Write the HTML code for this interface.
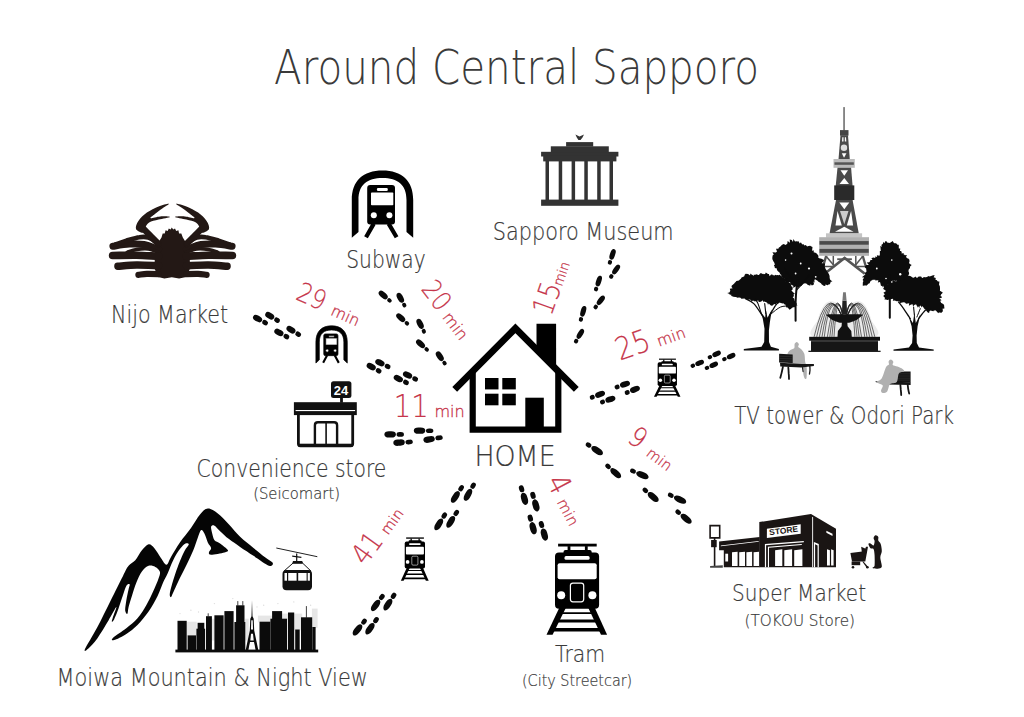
<!DOCTYPE html>
<html><head><meta charset="utf-8"><title>Around Central Sapporo</title>
<style>html,body{margin:0;padding:0;background:#fff}svg{display:block}text{font-family:"DejaVu Sans Light","DejaVu Sans ExtraLight","Liberation Sans",sans-serif;font-weight:200}text.b{font-family:"Liberation Sans",sans-serif;font-weight:bold}text.n{font-family:"Liberation Sans",sans-serif;font-weight:normal}</style></head>
<body>
<svg width="1024" height="717" viewBox="0 0 1024 717">
<rect width="1024" height="717" fill="#fff"/>
<text x="274" y="84" font-size="48" textLength="485" lengthAdjust="spacingAndGlyphs" fill="#3a3a3a" stroke="#3a3a3a" stroke-width="0">Around Central Sapporo</text>
<text x="111" y="323.3" font-size="24" textLength="117" lengthAdjust="spacingAndGlyphs" fill="#3a3a3a" stroke="#3a3a3a" stroke-width="0.2">Nijo Market</text>
<text x="346.2" y="268" font-size="24" textLength="79.6" lengthAdjust="spacingAndGlyphs" fill="#3a3a3a" stroke="#3a3a3a" stroke-width="0.2">Subway</text>
<text x="492.8" y="239.6" font-size="24" textLength="180.8" lengthAdjust="spacingAndGlyphs" fill="#3a3a3a" stroke="#3a3a3a" stroke-width="0.2">Sapporo Museum</text>
<text x="734.2" y="424.2" font-size="24" textLength="219.8" lengthAdjust="spacingAndGlyphs" fill="#3a3a3a" stroke="#3a3a3a" stroke-width="0.2">TV tower &amp; Odori Park</text>
<text x="196.6" y="477" font-size="24.2" textLength="189.8" lengthAdjust="spacingAndGlyphs" fill="#3a3a3a" stroke="#3a3a3a" stroke-width="0.2">Convenience store</text>
<text x="253.2" y="498.9" font-size="15.6" textLength="86.8" lengthAdjust="spacingAndGlyphs" fill="#3a3a3a" stroke="#3a3a3a" stroke-width="0.2">(Seicomart)</text>
<text x="474.4" y="466.4" font-size="28.3" textLength="81.2" lengthAdjust="spacingAndGlyphs" fill="#3a3a3a" stroke="#3a3a3a" stroke-width="0.2">HOME</text>
<text x="56.6" y="685.9" font-size="24.6" textLength="311.2" lengthAdjust="spacingAndGlyphs" fill="#3a3a3a" stroke="#3a3a3a" stroke-width="0.2">Moiwa Mountain &amp; Night View</text>
<text x="555" y="662.3" font-size="23.6" textLength="50.2" lengthAdjust="spacingAndGlyphs" fill="#3a3a3a" stroke="#3a3a3a" stroke-width="0.2">Tram</text>
<text x="522" y="685.7" font-size="16" textLength="110.2" lengthAdjust="spacingAndGlyphs" fill="#3a3a3a" stroke="#3a3a3a" stroke-width="0.2">(City Streetcar)</text>
<text x="732" y="600.5" font-size="23.2" textLength="134" lengthAdjust="spacingAndGlyphs" fill="#3a3a3a" stroke="#3a3a3a" stroke-width="0.2">Super Market</text>
<text x="744.6" y="625.5" font-size="16.2" textLength="110.4" lengthAdjust="spacingAndGlyphs" fill="#3a3a3a" stroke="#3a3a3a" stroke-width="0.2">(TOKOU Store)</text>
<g transform="translate(296.2 299.5) rotate(24)" fill="#c6364b" stroke="#c6364b"><text transform="scale(0.87 1)" x="-2.3" y="0" font-size="26.7" stroke-width="0.15">29</text><text x="36.8" y="0" font-size="15.5" textLength="29.5" lengthAdjust="spacingAndGlyphs" stroke-width="0.3">min</text></g>
<g transform="translate(421.4 290.6) rotate(52.5)" fill="#c6364b" stroke="#c6364b"><text transform="scale(0.87 1)" x="-2.3" y="0" font-size="27" stroke-width="0.15">20</text><text x="33.5" y="0" font-size="16" textLength="30.5" lengthAdjust="spacingAndGlyphs" stroke-width="0.3">min</text></g>
<g transform="translate(552 314.3) rotate(-70.5)" fill="#c6364b" stroke="#c6364b"><text transform="scale(0.87 1)" x="-3.4" y="0" font-size="29.5" stroke-width="0.15">15</text><text x="29" y="0" font-size="13.5" textLength="24.6" lengthAdjust="spacingAndGlyphs" stroke-width="0.3">min</text></g>
<g transform="translate(621.7 360) rotate(-19.5)" fill="#c6364b" stroke="#c6364b"><text transform="scale(0.87 1)" x="-2.3" y="0" font-size="31.3" stroke-width="0.15">25</text><text x="39.7" y="0" font-size="15.4" textLength="29.3" lengthAdjust="spacingAndGlyphs" stroke-width="0.3">min</text></g>
<g transform="translate(396.7 417.1) rotate(0)" fill="#c6364b" stroke="#c6364b"><text transform="scale(0.87 1)" x="-3.4" y="0" font-size="31.6" stroke-width="0.15">11</text><text x="37.7" y="0" font-size="15.9" textLength="30.3" lengthAdjust="spacingAndGlyphs" stroke-width="0.3">min</text></g>
<g transform="translate(627.7 441.7) rotate(37)" fill="#c6364b" stroke="#c6364b"><text transform="scale(0.87 1)" x="-2.3" y="0" font-size="28" stroke-width="0.15">9</text><text x="22" y="0" font-size="14.5" textLength="27.7" lengthAdjust="spacingAndGlyphs" stroke-width="0.3">min</text></g>
<g transform="translate(546.4 482.9) rotate(62)" fill="#c6364b" stroke="#c6364b"><text transform="scale(0.87 1)" x="-1.7" y="0" font-size="30.9" stroke-width="0.15">4</text><text x="21.5" y="0" font-size="15" textLength="28.6" lengthAdjust="spacingAndGlyphs" stroke-width="0.3">min</text></g>
<g transform="translate(366.4 565.4) rotate(-54)" fill="#c6364b" stroke="#c6364b"><text transform="scale(0.87 1)" x="-1.7" y="0" font-size="28.8" stroke-width="0.15">41</text><text x="36.6" y="0" font-size="14.6" textLength="27.9" lengthAdjust="spacingAndGlyphs" stroke-width="0.3">min</text></g>
<path d="M454.7 389.4 L515.4 328.3 L576.3 389.4" fill="none" stroke="#000" stroke-width="6.8" stroke-linejoin="miter"/><path d="M536.5 323.7 L556.1 323.7 L556.1 366.9 L536.5 347.9Z" fill="#000"/><path d="M472.7 371.2 V429.6 H558.3 V371.2" fill="none" stroke="#000" stroke-width="6.2"/><rect x="485" y="378" width="13.5" height="11.4" fill="#000"/><rect x="502.3" y="378" width="13.5" height="11.4" fill="#000"/><rect x="485" y="393.7" width="13.5" height="11.6" fill="#000"/><rect x="502.3" y="393.7" width="13.5" height="11.6" fill="#000"/><rect x="525.3" y="397.7" width="18.5" height="29.6" fill="#000"/>
<defs><g id="subway"><path d="M-0 67.4 V29.5 C-0 10.1 11.3 -0 30.7 -0 C50 -0 61.4 10.1 61.4 29.5 V67.4 L54.7 61.6 V29.5 C54.7 14.3 45.8 7.6 30.7 7.6 C15.5 7.6 6.7 14.3 6.7 29.5 V61.6 Z" fill="#000"/><rect x="15.4" y="14.7" width="27.8" height="39.3" rx="3" fill="#000"/><rect x="19.2" y="22.2" width="22.3" height="12.6" rx="0.8" fill="#fff"/><rect x="25.1" y="17.7" width="10.9" height="2.8" rx="1.2" fill="#fff"/><circle cx="22" cy="44.8" r="3" fill="#fff"/><circle cx="37.6" cy="44.8" r="3" fill="#fff"/><path d="M22 53.2 L14.2 66.9 M36.8 53.2 L44.8 66.9" stroke="#000" stroke-width="4.2" fill="none"/></g><g id="tram"><rect x="11.2" y="0" width="38.6" height="2.8" rx="0" fill="#000"/><rect x="20.7" y="2.4" width="2.8" height="5.7" rx="0" fill="#000"/><rect x="38" y="2.4" width="2.8" height="5.7" rx="0" fill="#000"/><rect x="16.6" y="6.2" width="28.2" height="5" rx="2" fill="#000"/><rect x="8.1" y="8.8" width="44.1" height="56.2" rx="4" fill="#000"/><rect x="17.6" y="12.4" width="25.1" height="3.6" rx="1.5" fill="#fff"/><rect x="10.7" y="19.5" width="39.1" height="16.1" rx="2" fill="#fff"/><rect x="23.5" y="39.4" width="13.3" height="18.7" rx="2.5" fill="#000" stroke="#fff" stroke-width="1.2"/><circle cx="14.3" cy="51.5" r="4" fill="#fff"/><circle cx="45.5" cy="51.5" r="4" fill="#fff"/><path d="M12.4 64 L19 64 L5.7 91.1 L-0.4 91.1Z" fill="#000"/><path d="M41.3 64 L47.9 64 L60.2 91.1 L54.1 91.1Z" fill="#000"/><path d="M15.2 68.5 L45.1 68.5 L45.8 70.4 L14.5 70.4Z" fill="#000"/><path d="M11.4 75.9 L48.9 75.9 L50 78.7 L10.2 78.7Z" fill="#000"/><path d="M7.1 84.2 L53.1 84.2 L54.5 87.7 L5.7 87.7Z" fill="#000"/></g></defs>
<use href="#subway" transform="translate(351.8 170.4)"/>
<use href="#subway" transform="translate(315.9 325.8) scale(0.511 0.553)" stroke="#000" stroke-width="1.3"/>
<use href="#tram" transform="translate(546.9 543.7)"/>
<use href="#tram" transform="translate(654.1 358.6) scale(0.438 0.42)"/>
<use href="#tram" transform="translate(401 537.4) scale(0.46 0.477)"/>
<g fill="#333"><rect x="541.1" y="199.6" width="77.3" height="6.2"/><rect x="541.1" y="151.8" width="77.3" height="4.7"/><rect x="543.2" y="155.9" width="73.2" height="5.5"/><rect x="550.8" y="146.3" width="58" height="6.2"/><rect x="566.1" y="142.1" width="27.1" height="4.5"/><rect x="545.5" y="161" width="3.5" height="39"/><rect x="558.7" y="161" width="3.5" height="39"/><rect x="571.6" y="161" width="3.5" height="39"/><rect x="584.3" y="161" width="3.5" height="39"/><rect x="597.2" y="161" width="3.5" height="39"/><rect x="609.5" y="161" width="3.5" height="39"/><path d="M575.4 134.4 L579.5 136.4 L584 134.4 L582.5 137.4 L580.5 140.1 L578.4 140.1 L576.8 137.4Z"/></g>
<rect x="331" y="381.2" width="20.4" height="16.8" rx="2.5" fill="#111"/><rect x="340.1" y="397.5" width="2.8" height="5.2" rx="0" fill="#111"/><rect x="293.9" y="402.2" width="62.9" height="12.9" rx="0" fill="#111"/><rect x="295.6" y="410" width="59.5" height="1.1" rx="0" fill="#fff"/><path d="M298.4 414 V443.8 Q298.4 445.8 300.4 445.8 H350.7 Q352.7 445.8 352.7 443.8 V414" fill="none" stroke="#111" stroke-width="2.8"/><rect x="298.4" y="443.7" width="54.4" height="3.2" rx="0" fill="#111"/><path d="M314.9 445.2 V425.2 Q314.9 422.2 317.9 422.2 H334.1 Q337.1 422.2 337.1 425.2 V445.2" fill="none" stroke="#111" stroke-width="2.4"/><path d="M326.1 422.2 V445.2" stroke="#111" stroke-width="1.6"/><text x="341.1" y="395.4" font-size="13" class="b" fill="#fff" text-anchor="middle">24</text>
<path d="M171.8 227.5 L173.2 229.4 L175 228.4 L176.2 230.9 L178.4 230.2 L179.1 233.4 L181.3 233.4 L182.8 237.5 L186.4 243.3 L189.6 253.6 L190.1 268.2 L186.4 277 L179.1 278.5 L171.8 277.3 L164.4 278.5 L157.9 277 L154.5 268.2 L154.9 253.6 L157.9 243.3 L161.5 237.5 L162.7 233.4 L164.7 233.4 L165.6 230.2 L167.7 230.9 L168.8 228.4 L170.6 229.4Z" fill="#231815"/><path d="M158.6 249.5 C156.1 248.7 148.8 245.4 143.9 244.5 C139.1 243.6 134.5 243.8 129.3 244.1 C124.1 244.4 115.6 245.9 112.9 246.3" fill="none" stroke="#231815" stroke-width="7.0" stroke-linecap="round" stroke-linejoin="round"/><path d="M158.6 252.1 C156.9 251.6 152 249.3 148.3 248.9 C144.7 248.5 140.2 248.9 136.6 249.5 C133.1 250.1 128.7 251.9 127.1 252.4" fill="none" stroke="#231815" stroke-width="3.6" stroke-linecap="round" stroke-linejoin="round"/><path d="M158.6 256.2 C154.9 256.1 144.3 255.5 136.6 255.3 C129 255.2 116.6 255.5 112.6 255.5" fill="none" stroke="#231815" stroke-width="7.6" stroke-linecap="round" stroke-linejoin="round"/><path d="M158.6 265.7 C154.9 265.6 143.4 264.9 136.6 265 C129.8 265.1 121 266.1 117.9 266.3" fill="none" stroke="#231815" stroke-width="7.4" stroke-linecap="round" stroke-linejoin="round"/><path d="M158.6 274.1 C156.6 274 150.2 273.7 146.9 273.8 C143.5 273.9 139.8 274.7 138.4 274.8" fill="none" stroke="#231815" stroke-width="6.2" stroke-linecap="round" stroke-linejoin="round"/><path d="M158.6 244.1 C157 242.5 151.9 237.4 149.1 234.5 C146.3 231.7 143 228.2 141.7 226.9" fill="none" stroke="#231815" stroke-width="6.4" stroke-linecap="round" stroke-linejoin="round"/><path d="M158.6 243.3 C156.9 242.4 151.5 238.5 148.3 237.5 C145.2 236.5 143.2 236.6 139.5 237.2 C135.9 237.7 130.4 239.5 126.4 240.7 C122.3 241.9 117.2 243.9 115.4 244.5" fill="none" stroke="#231815" stroke-width="4.6" stroke-linecap="round" stroke-linejoin="round"/><path d="M136 229 C135.3 227 136.6 223.8 138.4 221.1 C140.2 218.3 143.5 215 146.9 212.6 C150.2 210.1 154.9 207.9 158.6 206.4 C162.3 205 168.5 203.4 169.1 203.8 C169.7 204.1 164.6 206.8 162.3 208.5 C159.9 210.2 156.9 212.4 154.9 214 C153 215.7 149.7 217.8 150.5 218.1 C151.4 218.5 156.8 216.6 160.1 216.4 C163.3 216.2 170.3 216.4 170 217 C169.8 217.5 162.1 218.7 158.6 219.6 C155.1 220.5 151.3 221.1 149.1 222.5 C146.8 223.9 146.2 226.2 145.1 228 C144.1 229.7 144.3 232.6 142.8 232.8 C141.3 233 136.8 230.9 136 229Z" fill="#231815"/><path d="M186.4 249.5 C188.9 248.7 196.2 245.4 201.1 244.5 C206 243.6 210.5 243.8 215.7 244.1 C220.9 244.4 229.4 245.9 232.1 246.3" fill="none" stroke="#231815" stroke-width="7.0" stroke-linecap="round" stroke-linejoin="round"/><path d="M186.4 252.1 C188.1 251.6 193 249.3 196.7 248.9 C200.3 248.5 204.9 248.9 208.4 249.5 C211.9 250.1 216.3 251.9 217.9 252.4" fill="none" stroke="#231815" stroke-width="3.6" stroke-linecap="round" stroke-linejoin="round"/><path d="M186.4 256.2 C190.1 256.1 200.7 255.5 208.4 255.3 C216.1 255.2 228.4 255.5 232.4 255.5" fill="none" stroke="#231815" stroke-width="7.6" stroke-linecap="round" stroke-linejoin="round"/><path d="M186.4 265.7 C190.1 265.6 201.6 264.9 208.4 265 C215.2 265.1 224 266.1 227.1 266.3" fill="none" stroke="#231815" stroke-width="7.4" stroke-linecap="round" stroke-linejoin="round"/><path d="M186.4 274.1 C188.4 274 194.8 273.7 198.1 273.8 C201.5 273.9 205.2 274.7 206.6 274.8" fill="none" stroke="#231815" stroke-width="6.2" stroke-linecap="round" stroke-linejoin="round"/><path d="M186.4 244.1 C188 242.5 193.1 237.4 195.9 234.5 C198.8 231.7 202 228.2 203.3 226.9" fill="none" stroke="#231815" stroke-width="6.4" stroke-linecap="round" stroke-linejoin="round"/><path d="M186.4 243.3 C188.1 242.4 193.5 238.5 196.7 237.5 C199.8 236.5 201.8 236.6 205.5 237.2 C209.1 237.7 214.6 239.5 218.6 240.7 C222.7 241.9 227.8 243.9 229.6 244.5" fill="none" stroke="#231815" stroke-width="4.6" stroke-linecap="round" stroke-linejoin="round"/><path d="M209 229 C209.7 227 208.4 223.8 206.6 221.1 C204.8 218.3 201.5 215 198.1 212.6 C194.8 210.1 190.1 207.9 186.4 206.4 C182.7 205 176.5 203.4 175.9 203.8 C175.3 204.1 180.4 206.8 182.8 208.5 C185.1 210.2 188.1 212.4 190.1 214 C192 215.7 195.3 217.8 194.5 218.1 C193.6 218.5 188.2 216.6 185 216.4 C181.7 216.2 174.8 216.4 175 217 C175.2 217.5 182.9 218.7 186.4 219.6 C189.9 220.5 193.7 221.1 195.9 222.5 C198.2 223.9 198.8 226.2 199.9 228 C200.9 229.7 200.7 232.6 202.2 232.8 C203.8 233 208.2 230.9 209 229Z" fill="#231815"/>
<path d="M85 649.1 C86.5 645.5 93 635.3 97.3 627.2 C101.6 619.1 106.4 609 110.7 600.4 C115 591.9 120 581.6 123 575.9 C126 570.1 126.5 568.4 128.6 565.8 C130.6 563.2 133 562.9 135.3 560.3 C137.5 557.7 139.7 552.9 141.9 550.2 C144.2 547.5 146.6 544.6 148.6 544.2 C150.7 543.8 152.2 545.7 154.2 548 C156.3 550.3 158.9 555.2 160.9 558 C163 560.8 164.8 564.9 166.5 564.7 C168.2 564.5 168.7 560.6 171 556.9 C173.2 553.2 176.5 547.2 179.9 542.4 C183.2 537.6 187.7 532.5 191 527.9 C194.4 523.2 197.2 517.7 200 514.5 C202.8 511.3 204.8 508.7 207.8 508.5 C210.8 508.3 214.3 510.7 217.8 513.4 C221.4 516.1 225.3 520.6 229 524.5 C232.7 528.5 236.1 532.9 240.1 536.8 C244.2 540.7 249.4 544.6 253.5 548 C257.6 551.3 261.5 554.5 264.7 556.9 C267.9 559.3 271.4 561 272.5 562.5 C273.6 564 272.3 565.5 271.4 565.8 C270.5 566.2 269.9 566.4 266.9 564.7 C263.9 563 258 558.8 253.5 555.8 C249.1 552.8 244.2 549.7 240.1 546.9 C236.1 544.1 232.3 541.7 229 539.1 C225.6 536.5 222.5 533.5 220.1 531.2 C217.6 529 216 526.4 214.5 525.7 C213 524.9 211.5 525.5 211.1 526.8 C210.8 528.1 211.7 531.2 212.2 533.5 C212.8 535.7 213.2 538.5 214.5 540.2 C215.8 541.8 217.8 541.8 220.1 543.5 C222.3 545.2 227.1 548.7 227.9 550.2 C228.6 551.7 227.3 551.7 224.5 552.4 C221.7 553.2 213.7 554.7 211.1 554.7 C208.5 554.7 208.9 553.6 208.9 552.4 C208.9 551.3 211.3 549.7 211.1 548 C210.9 546.3 208.9 544.8 207.8 542.4 C206.7 540 205.6 535.5 204.4 533.5 C203.3 531.4 202.2 529.4 201.1 530.1 C200 530.9 199 534.6 197.7 537.9 C196.4 541.3 195.1 545.7 193.3 550.2 C191.4 554.7 188.8 560.1 186.6 564.7 C184.4 569.4 182.1 573.5 179.9 578.1 C177.7 582.8 174.7 589.5 173.2 592.6 C171.7 595.8 171.5 596.9 171 597.1 C170.4 597.3 169.5 596.5 169.8 593.7 C170.2 590.9 171.9 584.8 173.2 580.3 C174.5 575.9 175.8 571.8 177.7 566.9 C179.5 562.1 182.5 555 184.4 551.3 C186.2 547.6 188.6 545.9 188.8 544.6 C189 543.3 187 542.8 185.5 543.5 C184 544.3 181.9 546.3 179.9 549.1 C177.8 551.9 175.2 556.2 173.2 560.3 C171.1 564.3 169.3 569.9 167.6 573.6 C165.9 577.4 164.8 578.9 163.1 582.6 C161.5 586.3 160 591.1 157.6 596 C155.2 600.8 152 606.7 148.6 611.6 C145.3 616.4 141.2 621.3 137.5 625 C133.8 628.7 130.2 631.4 126.3 633.9 C122.4 636.4 116.3 639.5 114.1 640.1 C111.8 640.8 110.9 639.9 112.9 637.9 C115 635.9 122.2 631.6 126.3 628.3 C130.4 625 134.1 622.2 137.5 618.3 C140.8 614.4 143.8 609.4 146.4 604.9 C149 600.4 151.1 596 153.1 591.5 C155.2 587 157.6 581.5 158.7 578.1 C159.8 574.8 160.4 573.3 159.8 571.4 C159.2 569.6 157.2 567.9 155.3 566.9 C153.5 566 150.9 565.1 148.6 565.8 C146.4 566.6 144 568.6 141.9 571.4 C139.9 574.2 138 578.5 136.4 582.6 C134.7 586.7 133.2 591.9 131.9 596 C130.6 600.1 129.3 604.1 128.6 607.1 C127.8 610.1 128 613.3 127.4 613.8 C126.9 614.4 125.4 612.7 125.2 610.5 C125 608.2 125.8 604 126.3 600.4 C126.9 596.9 128 591.9 128.6 589.3 C129.1 586.6 130 584.9 129.7 584.4 C129.3 583.8 127.6 583.6 126.3 585.9 C125 588.2 123.4 593.9 121.9 598.2 C120.4 602.5 118.7 608 117.4 611.6 C116.1 615.1 115 617.7 114.1 619.4 C113.1 621.1 112 622 111.8 621.6 C111.6 621.3 112.2 619.6 112.9 617.2 C113.7 614.7 117 606.6 116.3 607.1 C115.5 607.7 111.6 615.3 108.5 620.5 C105.3 625.7 100.7 633.7 97.3 638.4 C94 643 90.4 646.6 88.4 648.4 C86.3 650.2 83.6 652.6 85 649.1Z" fill="#050505"/>
<rect x="186.7" y="621.7" width="10" height="14.6" fill="#e6e6e6"/><rect x="211.8" y="618.7" width="3" height="21.8" fill="#e6e6e6"/><rect x="245" y="618.7" width="3.7" height="21.8" fill="#e6e6e6"/><rect x="257.9" y="615.6" width="14.6" height="6.7" fill="#e6e6e6"/><rect x="293.5" y="613.6" width="8.7" height="16.7" fill="#e6e6e6"/><rect x="311.9" y="608.6" width="5.7" height="19.2" fill="#e6e6e6"/><rect x="282.1" y="613.6" width="6.4" height="5.9" fill="#e6e6e6"/><circle cx="180" cy="613.6" r="0.7" fill="#ddd"/><circle cx="190.9" cy="610.3" r="0.7" fill="#ddd"/><circle cx="198.5" cy="612" r="0.7" fill="#ddd"/><circle cx="214.4" cy="603.6" r="0.7" fill="#ddd"/><circle cx="232.8" cy="598.6" r="0.7" fill="#ddd"/><circle cx="263.7" cy="605.3" r="0.7" fill="#ddd"/><circle cx="277.9" cy="603.6" r="0.7" fill="#ddd"/><circle cx="293.8" cy="601.9" r="0.7" fill="#ddd"/><circle cx="310.6" cy="605.3" r="0.7" fill="#ddd"/><circle cx="257" cy="606.9" r="0.7" fill="#ddd"/><g fill="#0b0b0b"><rect x="177.5" y="620.8" width="9.2" height="30"/><rect x="187.6" y="635.4" width="8.4" height="15.4"/><rect x="196.4" y="628.7" width="8.7" height="22.1"/><rect x="197.6" y="622.8" width="6.7" height="27.9"/><rect x="206" y="616.2" width="5.9" height="34.6"/><rect x="214.4" y="615.3" width="9.2" height="35.5"/><rect x="224.4" y="611.1" width="9.2" height="39.7"/><rect x="236.1" y="605.3" width="8.4" height="45.5"/><rect x="234.4" y="622" width="10.9" height="28.8"/><rect x="259.5" y="621.7" width="10.9" height="29.1"/><rect x="272.1" y="611.1" width="10" height="39.7"/><rect x="270.4" y="618.7" width="16.7" height="32.1"/><rect x="288" y="612.5" width="6.2" height="38.3"/><rect x="295.2" y="629.5" width="4.5" height="21.3"/><rect x="301" y="617.3" width="11.2" height="33.5"/><rect x="312.3" y="627" width="3.3" height="23.8"/><path d="M237.8 601.1 V605.6" stroke="#111" stroke-width="0.8"/><path d="M242.8 601.1 V605.6" stroke="#111" stroke-width="0.8"/><path d="M306.4 606.1 V617.8" stroke="#111" stroke-width="0.8"/><path d="M208.2 613.3 V616.5" stroke="#111" stroke-width="0.8"/><rect x="175.4" y="649.6" width="142.8" height="2.8"/><path d="M252 600.3 L252.5 616.2 L253.7 618.7 L254.2 630.4 L258.4 650.5 L255.7 650.5 L254 642.1 L250 642.1 L248.3 650.5 L245.6 650.5 L249.8 630.4 L250.3 618.7 L251.5 616.2Z"/><path d="M251 633.7 L253 633.7 L253.7 640.4 L250.3 640.4Z" fill="#fff"/><path d="M251.3 620.3 L252.7 620.3 L253 629.5 L251 629.5Z" fill="#fff"/><path d="M250 644.1 L254 644.1 L254.7 648.8 L249.3 648.8Z" fill="#fff"/></g>
<path d="M276.3 548 L317.3 556.7" stroke="#222" stroke-width="1"/><path d="M292.2 555.4 L301.4 556.7 L301.4 558.1 L292.2 556.7Z" fill="#111"/><path d="M296.7 553.4 L296.7 562.6" fill="none" stroke="#111" stroke-width="1.2"/><path d="M293 560.9 L302.2 560.9 L303.1 563.4 L292.2 563.4Z" fill="#111"/><path d="M293 563.1 L284.1 571 L310.9 571 L302.6 563.1Z" fill="none" stroke="#111" stroke-width="1"/><rect x="282.5" y="570.1" width="29.5" height="20.1" rx="4" fill="#111"/><rect x="284.5" y="573" width="2.5" height="7.7" fill="#fff"/><rect x="288.2" y="573" width="8.4" height="7.7" fill="#fff"/><rect x="298.2" y="573" width="8.4" height="7.7" fill="#fff"/><rect x="307.7" y="573" width="2.2" height="7.7" fill="#fff"/>
<rect x="843.3" y="107.1" width="1.5" height="23.6" fill="#666"/><rect x="840" y="130.1" width="8.5" height="5.5" fill="#444"/><path d="M840.5 135.2 L848 135.2 L849.8 159.3 L838.5 159.3Z" fill="#4a4a4a"/><circle cx="844" cy="147.7" r="3.2" fill="#ddd"/><path d="M842.3 137.2 L843.5 137.2 L843.5 141.4 L842 141.4Z" fill="#fff"/><path d="M844.8 137.2 L846 137.2 L846.3 141.4 L844.8 141.4Z" fill="#fff"/><path d="M841.8 153.2 L846.5 153.2 L844 157.8Z" fill="#fff"/><rect x="833.5" y="159" width="21.3" height="8.8" fill="#bbb"/><rect x="834.5" y="162.3" width="19.3" height="2.5" fill="#555"/><path d="M837.5 167.8 L851.1 167.8 L852.6 185.9 L835.7 185.9Z" fill="#4a4a4a"/><path d="M840.5 170.3 L848 170.3 L844.3 175.8Z" fill="#fff"/><path d="M839.5 184.1 L844.3 177.9 L849 184.1Z" fill="#fff"/><rect x="834.2" y="185.4" width="20.1" height="14.6" fill="#2a2a2a"/><path d="M836 199.9 L852.6 199.9 L858.8 233.6 L829.5 233.6Z" fill="#4a4a4a"/><path d="M839.3 202.5 L849.3 202.5 L844.3 209.2Z" fill="#fff"/><path d="M840 211 L848.5 211 L844.3 224.3Z" fill="#ccc"/><path d="M837.5 211 L841.8 225.6 L835.5 225.6Z" fill="#fff"/><path d="M851.1 211 L846.8 225.6 L853.1 225.6Z" fill="#fff"/><path d="M835 231.8 L844.3 226.8 L853.6 231.8Z" fill="#fff"/><path d="M824 274.3 L844.6 258 L864.8 273.8" fill="none" stroke="#555" stroke-width="2.6"/><path d="M826.3 255.5 L822.6 268" fill="none" stroke="#555" stroke-width="2.4"/><path d="M862.6 255.5 L866.3 268" fill="none" stroke="#555" stroke-width="2.4"/><path d="M833.3 255.8 L833.3 265.5" fill="none" stroke="#555" stroke-width="1.5"/><path d="M855.8 255.8 L855.8 265.5" fill="none" stroke="#555" stroke-width="1.5"/><path d="M826.3 256.4 L833.3 264.8" fill="none" stroke="#555" stroke-width="1.5"/><path d="M862.6 256.4 L855.8 264.8" fill="none" stroke="#555" stroke-width="1.5"/><path d="M823.1 266.5 L834.3 266.5" fill="none" stroke="#555" stroke-width="1.5"/><path d="M854.8 266.5 L865.7 266.5" fill="none" stroke="#555" stroke-width="1.5"/><path d="M837.2 259.2 L851.9 259.2" fill="none" stroke="#555" stroke-width="1.8"/><rect x="826" y="233.3" width="36.1" height="4.4" fill="#c4c4c4"/><rect x="819.2" y="237.2" width="49.8" height="18.6" fill="#b0b0b0"/><rect x="819.5" y="241.1" width="49.2" height="3.6" fill="#4a4a4a"/><rect x="819.5" y="248.9" width="49.2" height="3.9" fill="#4a4a4a"/>
<path d="M772.4 257.2 L772.6 255.6 L773.8 254.6 L772.4 252.3 L775.8 252.4 L777 251.6 L776 248.8 L778.4 248.8 L778.7 247.7 L779.4 247.3 L780.7 246.3 L781.5 245.2 L782.6 244.5 L783.8 244 L785.5 245 L787.3 243.7 L787.6 241.1 L790 242.8 L789.7 239.6 L791.7 240.1 L793 241.9 L793.4 239 L795 241.6 L796.6 241.3 L797.9 241.4 L798.3 241 L799.8 243.5 L800.9 242.3 L802.2 244.6 L803.2 244 L804.5 245.6 L805.8 245.1 L807.1 246.5 L808.5 245.9 L810.2 245.7 L810.9 246.2 L812.5 247 L812.1 250.3 L812.9 251 L813.7 250.1 L813.8 252.4 L815.1 252.4 L815.7 252.9 L816.7 253.6 L818.1 255.2 L818.5 256.1 L818.2 257.6 L819.2 258.3 L821.5 258.8 L824 259.9 L823.7 260.9 L821.7 263.3 L825.1 263.6 L824.8 265.8 L824.7 266.6 L825.6 269 L826.7 270.6 L827.6 272.3 L828.9 273.9 L829.6 275.9 L829.6 277.6 L830 279.4 L832.4 281.5 L830.7 281.8 L830.6 282.3 L829.9 284.2 L828.5 284.5 L827.8 285.2 L825.4 284.5 L825.4 285.3 L825.2 285.9 L823.6 285.8 L820.9 283.8 L821.7 283.8 L819 281.9 L818.1 281.5 L817.6 280.7 L815 279.3 L814.4 279.9 L814.4 281.4 L815 282.7 L813.5 281.4 L814 284.3 L813 285.1 L811.8 285.4 L810.7 284.1 L810.4 285.6 L809.5 285.6 L807.6 284.8 L805.7 282.9 L805 284 L804.2 283.1 L803.3 284 L802.4 284.8 L801.3 285.9 L800.4 285.9 L799.4 286.3 L798.6 287.6 L796.9 287.5 L796.1 288 L795.7 286.3 L793.3 287.9 L793.3 285.7 L791.2 284.7 L790.3 284.5 L790.1 282 L786.8 282.9 L785.5 281.3 L785.4 279.9 L783.9 278.2 L781.1 276.7 L781.3 275.1 L780.2 274 L779.3 272.3 L778.2 271.4 L777.5 270.8 L776.9 269.8 L776.9 268.4 L774.8 267.9 L774.7 266.8 L773.9 265.6 L774.9 264.6 L774.2 262.4 L773.5 261.6 L772.4 259.3 L772.3 257.7Z" fill="#0c0c0c"/><path d="M795.6 320.7 C795.6 317.6 795.5 307.3 795.6 301.9 C795.8 296.6 796.1 292.5 796.5 288.6 C796.9 284.7 797.9 280.2 798.2 278.5" fill="none" stroke="#0c0c0c" stroke-width="2.0" stroke-linecap="round"/><path d="M796.5 290.2 C797.7 288.8 801.9 284.4 804 281.9 C806.1 279.4 808.2 276.3 809 275.2" fill="none" stroke="#0c0c0c" stroke-width="1.2" stroke-linecap="round"/><path d="M796.5 285.2 C795.2 283.5 790.9 278 788.9 275.2 C787 272.4 785.5 269.6 784.8 268.5" fill="none" stroke="#0c0c0c" stroke-width="1.2" stroke-linecap="round"/><circle cx="791.5" cy="253.4" r="1.0" fill="#fff"/><circle cx="800.7" cy="263.5" r="0.9" fill="#fff"/><circle cx="809" cy="268.5" r="1.1" fill="#fff"/><circle cx="785.6" cy="260.1" r="0.8" fill="#fff"/><circle cx="815.7" cy="276.8" r="0.9" fill="#fff"/><circle cx="795.6" cy="273.5" r="0.9" fill="#fff"/><path d="M862.8 283.7 L862.9 281.9 L863.5 281.1 L862.6 280 L864.1 277.4 L861.9 277.2 L865.3 274.4 L864.8 273 L866.2 272 L866.5 271.3 L866.2 269.3 L866.1 268.2 L864.8 267 L865.2 266 L866.4 265 L868.9 264.9 L866.7 262.4 L869.2 262.3 L870.1 261.3 L870.4 260 L872.5 259.9 L871.4 258.3 L873.2 257.6 L873.2 257.5 L875.4 257.9 L875 256.5 L877.1 257.1 L876.9 255.2 L879.4 255.8 L879.7 255.2 L879.9 254.1 L879.8 250.9 L880.8 251 L880.3 245.7 L881.6 247 L881.5 244.7 L882.7 244 L883.7 241.7 L884.8 243.2 L885.3 241.2 L886.1 241.1 L887.6 242.7 L888.8 242.7 L889.5 243 L891 242.3 L892.7 241 L893.9 243.1 L894.6 243.3 L896.1 243.2 L897.5 244.8 L898.7 244.8 L898.8 245.6 L898.8 248.6 L900.3 248.5 L899.9 250.9 L900.7 251 L901.7 251.8 L901.6 253.6 L904.1 253.1 L903.3 254.1 L904.4 254.7 L904.9 255.2 L906.9 255 L906 257 L907.2 258.2 L908.3 258.6 L909.4 259.7 L909.5 261.6 L909 263 L909.9 264 L911.7 265.1 L910.1 266.4 L910 267.9 L908.6 269.7 L908.5 271.5 L909.1 272.7 L909 274.4 L907.7 275.2 L909.3 276.6 L907.7 276.3 L907 276.9 L906.9 277 L905.3 277.9 L905.4 278.5 L906.5 278.9 L905 279 L905.2 279.9 L903.8 280.7 L901.1 279.6 L902.1 281.4 L900.1 281.4 L900 282.3 L899.4 281.9 L899 281.9 L897.6 281.6 L896.1 280.5 L895.5 281.3 L894.7 280.3 L894.4 281.3 L892.7 280.6 L892 281.7 L890.4 280.5 L889.9 281.1 L890.1 284.8 L889.7 286.4 L888 284.2 L887.5 285.9 L887.1 285.7 L885.9 285.8 L886.1 288.4 L884.7 288.1 L884.1 288.5 L883.4 285.4 L883 287.4 L882.1 285.7 L881 286.1 L880.6 284.3 L880.2 282.6 L879.8 281.9 L877.8 282.4 L878.5 280.5 L877.3 280.3 L875.3 280.5 L875.4 279.8 L873.6 279.8 L872.6 279.7 L871.9 280.4 L871.3 280.4 L870.4 281.3 L870.6 281 L869.6 283.2 L867.3 284.3 L868.2 284.1 L867.6 284.8 L865.8 286 L865.8 285.3 L864.5 285.6 L863 285.7 L862.7 285.4 L862.8 284.3Z" fill="#0c0c0c"/><path d="M889.8 317.8 C889.8 314.9 889.8 305.7 889.8 300.3 C889.9 294.8 890.3 289.4 890.2 285.2 C890.1 281 889.5 276.8 889.3 275.2" fill="none" stroke="#0c0c0c" stroke-width="2.0" stroke-linecap="round"/><circle cx="900.2" cy="274.3" r="1.2" fill="#fff"/><circle cx="891.8" cy="260.1" r="0.8" fill="#fff"/><circle cx="876.8" cy="268.5" r="0.9" fill="#fff"/><circle cx="886" cy="278.5" r="0.8" fill="#fff"/><path d="M729.6 294 L727.2 292.9 L729.4 292.4 L730.2 290.9 L730.3 290.4 L729.8 288.7 L732.7 288.3 L731.5 287 L731.8 285.4 L732.5 285 L734 283.7 L735 282.6 L735.4 282.2 L736.4 281.1 L739 280.5 L739.6 279.7 L740.9 278.8 L741.5 277.6 L743.4 276.8 L744.3 276.3 L744.7 274.7 L745.7 273.7 L748.1 274.1 L750.1 275.6 L750.3 273.6 L751.2 274.3 L754.2 276 L753.6 274.8 L755.4 274.8 L756.2 274.2 L758.4 275.1 L758.9 275.1 L760.3 273.2 L761.3 273.3 L763.3 274.3 L763.7 273.8 L765 274.3 L765.8 272.4 L768 273.9 L768.9 274.1 L769.6 276.3 L771.1 274.5 L772.4 274.4 L772.8 275.3 L773.6 275.3 L774.5 275.4 L775.7 274.7 L776.4 275.3 L777.4 274.9 L778.6 275.2 L780.4 274.4 L780.6 275.7 L782.2 277.2 L784.5 276.6 L784.5 278.7 L787.2 278.3 L785.8 281.2 L787.3 281.5 L788.9 282.2 L790.6 283.8 L791 284.7 L791.5 286.4 L792.5 286.8 L792.7 288.6 L792.6 289.6 L791.4 290.5 L793.4 292.4 L794.9 293.7 L793.4 294.8 L794.1 296.1 L792.7 297.2 L794.1 298.4 L794.3 299 L794.7 301 L795.7 302.2 L796.7 303.4 L796.4 304.3 L797.5 305.4 L795.6 305.6 L794.7 307.3 L792.6 307.2 L792.5 307.8 L791.6 308.2 L790.7 309 L789.5 309.8 L787.7 307.4 L786.4 307.4 L786.1 306.6 L785.5 305 L785.6 304.8 L783.6 304 L784.2 303.7 L782.5 303.1 L783.2 303.7 L781.8 303.2 L779.3 302.5 L779 303 L778.4 303.2 L777.9 303.8 L776.4 302.9 L776.1 304.8 L774.4 304 L773.7 304.5 L772.5 305.2 L772.4 305.9 L770.5 305.3 L768.8 303.6 L768 304.7 L767.4 303.1 L766.3 302.3 L764.3 301.4 L763.1 301.7 L762.7 300.2 L761.3 301.4 L759.8 302.1 L758.5 301.8 L758.3 300.4 L756.4 301.1 L754.5 301.6 L754.1 300.7 L752.9 300.8 L750.5 301.2 L751.4 300.4 L749.9 299.6 L747.9 299.7 L747.8 299.3 L745.8 299.1 L744.5 298.5 L741.6 298.8 L741.4 298.8 L740.5 297.7 L739.1 297.6 L736.7 297.8 L736.6 297 L735.2 297.1 L733.4 296.8 L732.1 296.3 L730.7 295.7 L731.9 294.9 L729.3 294.6Z" fill="#0c0c0c"/><path d="M764.5 328.7 L762.8 318.7 L760.2 311.2 L765.2 317.8 L765.8 309.5 L767.5 317.8 L771.9 309.5 L769.9 322 L768.9 330.4 L769 342.1 L770.9 346.8 L778.9 349.1 L778.9 350.5 L743.8 350.5 L743.8 349.1 L761.5 346.8 L764.2 342.1Z" fill="#0c0c0c"/><path d="M762.2 315.3 C760.8 313.4 756.6 306.4 753.8 303.6 C751 300.8 746.8 299.4 745.4 298.6" fill="none" stroke="#0c0c0c" stroke-width="1.3" stroke-linecap="round"/><path d="M761.3 313.7 C760.8 312 759 306 758 303.6 C757 301.2 755.9 300.1 755.5 299.4" fill="none" stroke="#0c0c0c" stroke-width="1.1" stroke-linecap="round"/><path d="M765.8 313.7 C765.7 312 764.9 305.3 764.7 303.6" fill="none" stroke="#0c0c0c" stroke-width="1.1" stroke-linecap="round"/><path d="M769.7 315.3 C770.7 313.7 774 307.5 775.6 305.3 C777.1 303.1 778.3 302.5 778.9 301.9" fill="none" stroke="#0c0c0c" stroke-width="1.3" stroke-linecap="round"/><path d="M771.4 313.7 C772.9 312.5 777.6 308.2 780.6 307 C783.5 305.7 787.6 306.3 788.9 306.1" fill="none" stroke="#0c0c0c" stroke-width="1.0" stroke-linecap="round"/><path d="M885.6 290.5 L882.9 288.8 L884 288.1 L884 287.9 L885.6 287.7 L885.3 286.8 L884.8 285.8 L885.2 285.2 L887.4 284.5 L888.5 284.3 L886.7 283.2 L888.2 282.3 L889.8 282.2 L892.2 282.7 L892.6 282 L892.2 280.8 L892.9 280.7 L896.7 281.5 L896.1 281 L897.5 280.5 L899 280.7 L901 280.7 L900.9 278.4 L903 279.6 L904.1 279.4 L903.9 277.2 L903.9 274.9 L906.3 276.3 L907.1 275.3 L908.9 275.7 L910.2 275.9 L910.8 276.2 L912.5 277.6 L913.9 277.7 L915.3 276.5 L917 278.1 L918.7 276.5 L919.5 276.6 L921.1 276.6 L922.1 278 L923.1 277.8 L923.7 277 L925.1 277.2 L926.1 277.3 L927.9 276.4 L928.8 276 L929.5 276.6 L931.1 276.1 L933.1 275.2 L934.7 275.2 L933.6 277.3 L935.8 277.9 L935.4 279.7 L936.6 280 L937.9 281.4 L939.4 281.4 L939.3 282.8 L939 284.5 L939.9 286.4 L940 288.3 L940 289.7 L939.9 290.8 L942.8 292.6 L942.1 293.5 L941.2 294.2 L940.5 296 L941.9 296.8 L941.5 298.1 L939.2 298.3 L941 299.7 L941.6 300.3 L939.8 300.9 L940.9 301.7 L940.9 302.7 L943.2 304.1 L944.1 305 L944.2 306.4 L944.3 307 L944.4 308.4 L942.4 308.7 L942.8 309.8 L942.8 311.3 L942.3 312 L941 313 L940.3 312.5 L938.8 312.5 L938.8 312.4 L938.3 313.2 L935.6 310.3 L934.9 310.7 L934.1 310.2 L933.8 310.4 L933.7 310.9 L933.3 311.2 L930.4 310.5 L929.9 311.1 L929.8 310.8 L929.4 311.4 L929.1 312.9 L927.8 312.5 L927.1 311.8 L925.5 309.6 L924.8 308.5 L924.6 309.5 L922.6 306.1 L921.8 307.5 L920.6 305.6 L919.6 306.3 L919.4 308.1 L917.9 305.9 L917.8 307.8 L916.2 304.5 L915.2 304.6 L914.3 305 L913.1 306.6 L912.6 304.2 L911.1 304.4 L908.9 305.8 L909.2 303.2 L906.3 303.8 L905.8 303.4 L905 302.6 L903.6 302.2 L902.2 302.5 L900.2 303.1 L899.2 302.8 L899.5 302 L899.1 301 L896.9 301.2 L895.8 301 L895 300.5 L892.8 300.8 L893.2 299.5 L893 298.7 L889.4 299.6 L890.2 299.4 L887.4 299.8 L888.8 299.7 L887.2 299.9 L886 299.6 L884.4 299.5 L884.8 298.8 L884.9 297.8 L883.2 295.9 L884.9 294.3 L883.4 292.7 L885.8 291.3Z" fill="#0c0c0c"/><path d="M912.6 335.4 L911.6 326.2 L908.6 316.2 L912.9 322.9 L914.4 312.8 L915.8 322.9 L920.3 314.5 L917.6 326.2 L916.6 335.4 L916.8 342.9 L919 347.5 L933.7 349.6 L933.7 350.8 L893.5 350.8 L893.5 349.6 L908.9 347.5 L912.1 342.9Z" fill="#0c0c0c"/><path d="M910.3 318.7 C909.1 317 905.5 311.4 903.6 308.6 C901.6 305.9 899.4 303.1 898.5 301.9" fill="none" stroke="#0c0c0c" stroke-width="1.3" stroke-linecap="round"/><path d="M914.4 315.3 C914.3 313.9 913.7 308.4 913.6 307" fill="none" stroke="#0c0c0c" stroke-width="1.1" stroke-linecap="round"/><path d="M918.6 318.7 C919.7 317.3 923.4 312 925.3 310.3 C927.3 308.6 929.5 308.9 930.3 308.6" fill="none" stroke="#0c0c0c" stroke-width="1.3" stroke-linecap="round"/><path d="M916.9 317 C917.5 315.6 919.7 310 920.3 308.6" fill="none" stroke="#0c0c0c" stroke-width="1.0" stroke-linecap="round"/><path d="M814.1 336.8 C804.6 333.9 816.4 324.4 817.8 319.5 C819.2 314.6 820.8 310.5 822.5 307.5 C824.2 304.5 826.1 302.6 828.3 301.7 C830.4 300.9 832.9 301.2 835.6 302.3 C838.3 303.3 841.5 308 844.5 308 C847.4 308 850.7 303.3 853.4 302.3 C856.1 301.2 858.5 300.9 860.7 301.7 C862.9 302.6 864.7 304.5 866.5 307.5 C868.2 310.5 869.8 314.6 871.2 319.5 C872.6 324.4 884.3 333.9 874.8 336.8 C865.3 339.7 823.6 339.7 814.1 336.8Z" fill="rgba(60,60,60,0.10)"/><path d="M841.3 314.8 Q827.1 282.9 814.1 336.8 M841.3 314.8 Q827.9 284 816.7 336.8 M841.3 314.8 Q828.7 285 819.4 336.8 M841.3 314.8 Q829.5 286.5 822 336.8 M841.3 314.8 Q830 288.1 824.3 336.8 M842.7 314.8 Q835.7 282.9 827.4 336.8 M842.7 314.8 Q835.9 284 829.8 336.8 M842.7 314.8 Q836.4 285.2 831.9 336.8 M842.7 314.8 Q837 286.9 834 336.8 M847.6 314.8 Q861.8 282.9 874.8 336.8 M847.6 314.8 Q861.1 284 872.2 336.8 M847.6 314.8 Q860.3 285 869.6 336.8 M847.6 314.8 Q859.5 286.5 867 336.8 M847.6 314.8 Q859 288.1 864.7 336.8 M846.3 314.8 Q853.3 282.9 861.5 336.8 M846.3 314.8 Q853 284 859.1 336.8 M846.3 314.8 Q852.6 285.2 857 336.8 M846.3 314.8 Q852 286.9 854.9 336.8" fill="none" stroke="#222" stroke-width="0.65"/><rect x="809.2" y="336.8" width="70.8" height="3.9" fill="#111"/><rect x="811" y="340.5" width="67" height="10.7" fill="#161616"/><rect x="808.4" y="350.7" width="72.2" height="1.3" fill="#222"/><rect x="811" y="341.3" width="67" height="0.7" fill="#444"/><path d="M827.7 314.5 C831.1 314.3 857.9 314.3 861.2 314.5 C864.6 314.7 861.7 315.6 861.2 316.2 C860.7 316.7 857.7 319.4 856.5 320.1 C855.3 320.7 850.9 322.4 849.2 322.7 C847.5 322.9 841.4 322.9 839.8 322.7 C838.1 322.4 833.6 320.7 832.4 320.1 C831.2 319.4 828.2 316.7 827.7 316.2 C827.3 315.6 824.4 314.7 827.7 314.5Z" fill="#111"/><path d="M841.9 322.1 L847.3 322.1 L847.6 326.3 L851.3 331 L851.8 337 L837.5 337 L837.9 331 L841.6 326.3Z" fill="#111"/><path d="M842.4 300.7 L846.6 300.7 L847.1 314.5 L841.9 314.5Z" fill="#222"/><path d="M843.1 292.3 L845.8 292.3 L846.6 300.7 L842.4 300.7Z" fill="#777"/><path d="M796.7 342 C797.4 342 798.6 343.3 798.9 344.1 C799.1 344.9 797.8 346.1 798.3 347 C798.7 347.9 800.5 348.2 801.5 349.4 C802.5 350.5 803.8 351.9 804.4 354 C805 356.2 804.8 360 805.2 362.1 C805.5 364.2 806.4 363.9 806.6 366.5 C806.9 369.1 806.9 375.5 806.6 377.5 C806.3 379.5 805.4 379.1 804.9 378.7 C804.3 378.2 803.7 376.3 803.4 374.5 C803.1 372.8 803.6 369.5 803 368 C802.3 366.4 801.1 365.6 799.3 365 C797.5 364.4 793.8 364.7 792 364.3 C790.1 363.9 789.1 364.4 788.3 362.8 C787.5 361.2 787 356.8 787.3 354.8 C787.5 352.7 788.6 351.5 789.8 350.4 C790.9 349.3 793.4 349.2 794.2 348.2 C795 347.1 794.2 345.1 794.6 344.1 C795 343.1 796 342 796.7 342Z" fill="#b0b0b0"/><path d="M779.1 353.7 L792.7 354.5 L792.7 363.1 L779.1 362.5Z" fill="#151515"/><path d="M779.4 356.2 L792.4 356.7" stroke="#555" stroke-width="0.3" fill="none"/><path d="M779.4 358.4 L792.4 358.9" stroke="#555" stroke-width="0.3" fill="none"/><path d="M779.4 360.6 L792.4 361.1" stroke="#555" stroke-width="0.3" fill="none"/><path d="M780 362.8 L801.5 364 L813.9 364 L813.9 366.1 L801.5 367.5 L780.3 366.6Z" fill="#151515"/><path d="M782.9 366.9 C782.7 367.8 782.2 370.5 781.7 372.4 C781.3 374.2 780.5 376.9 780.3 377.8" fill="none" stroke="#151515" stroke-width="1.8" stroke-linecap="round"/><path d="M788.3 367.5 C788.4 368.5 788.6 371.5 788.7 373.4 C788.9 375.3 789 378 789 378.9" fill="none" stroke="#151515" stroke-width="1.8" stroke-linecap="round"/><path d="M809.8 366.1 C809.9 366.7 810 368.8 810 370.2 C809.9 371.5 809.6 373.3 809.5 374" fill="none" stroke="#151515" stroke-width="1.3" stroke-linecap="round"/><path d="M802.5 367.5 C802.6 368.2 803 370.9 803.1 371.6" fill="none" stroke="#151515" stroke-width="1.1" stroke-linecap="round"/><path d="M896.3 371.6 L910.6 371.6 L910.6 382.6 L896.3 381.9Z" fill="#151515"/><path d="M896.6 373.8 L910.3 373.8" stroke="#555" stroke-width="0.3" fill="none"/><path d="M896.6 376 L910.3 376" stroke="#555" stroke-width="0.3" fill="none"/><path d="M896.6 378.2 L910.3 378.2" stroke="#555" stroke-width="0.3" fill="none"/><path d="M896.6 380.1 L910.3 380.1" stroke="#555" stroke-width="0.3" fill="none"/><path d="M885.7 381.6 L910.6 382.2 L910.6 385.1 L887.2 384.5Z" fill="#151515"/><path d="M900.4 384.8 C900.4 385.7 900.7 388.2 900.8 389.9 C901 391.6 901.2 394.2 901.2 395.1" fill="none" stroke="#151515" stroke-width="1.8" stroke-linecap="round"/><path d="M907.7 384.8 C907.8 385.6 908 388 908.3 389.5 C908.5 391 909 392.9 909.2 393.6" fill="none" stroke="#151515" stroke-width="1.8" stroke-linecap="round"/><path d="M876.2 381.6 C877.8 381.7 884.1 382.1 885.7 382.2" fill="none" stroke="#151515" stroke-width="1.3" stroke-linecap="round"/><path d="M890.8 359.6 C891.6 359.7 893 360.8 893.3 361.7 C893.7 362.5 892.1 364.1 892.7 364.9 C893.4 365.7 895.8 365.8 897.4 366.5 C899.1 367.2 901.5 368.1 902.6 369 C903.7 369.8 904.6 370.9 904 371.6 C903.4 372.4 900.1 371.7 898.9 373.4 C897.7 375.1 898.2 380.1 896.7 381.9 C895.2 383.7 891.7 382.5 890.1 384.1 C888.5 385.7 888.4 389.9 887.2 391.4 C886 392.9 883.8 393 882.8 392.9 C881.8 392.7 881 391.9 881 390.7 C881 389.4 883.2 386.8 882.8 385.5 C882.3 384.3 879.5 384 878.4 383.3 C877.3 382.7 875.7 382.3 876.2 381.6 C876.7 380.8 879.9 380.7 881.3 378.9 C882.7 377.2 883.7 373 884.5 370.9 C885.4 368.8 885.7 367.5 886.4 366.5 C887.2 365.4 888.6 365.4 888.9 364.6 C889.3 363.7 888.3 362.2 888.6 361.4 C889 360.5 890.1 359.6 890.8 359.6Z" fill="#b0b0b0"/>
<path d="M710.1 525.6 L719.7 525.6 L719.7 537.9 L710.1 537.9Z" fill="#fff" stroke="#1a1514" stroke-width="1.6"/><path d="M711.1 540 L716.7 540 L716.7 547.2 L711.1 547.2Z" fill="#1a1514"/><path d="M713.8 537.9 L715.4 537.9 L715.4 566.7 L713.8 566.7Z" fill="#1a1514"/><path d="M710.1 566 L722.8 565.2 L722.8 567.7 L710.1 567.7Z" fill="#444"/><path d="M719.1 541.6 L759.7 536.9 L759.7 567.3 L723.8 567.3 L723.8 550.2 L719.1 550.2Z" fill="#1a1514"/><path d="M732 552.3 L737.6 551.7 L737.6 566 L732 566Z" fill="#fff"/><path d="M739.2 552.3 L745 551.7 L745 566 L739.2 566Z" fill="#fff"/><path d="M746.4 552.3 L752.1 551.7 L752.1 566 L746.4 566Z" fill="#fff"/><path d="M753.6 552.3 L759.1 551.7 L759.1 566 L753.6 566Z" fill="#fff"/><path d="M725.3 553.7 L728.1 553.7 L728.1 561.5 L725.3 561.5Z" fill="#fff"/><path d="M720.8 545.5 L758.7 541 L758.7 541.8 L720.8 546.3Z" fill="#fff"/><path d="M759.3 522.1 L811 513.9 L811 567.3 L759.3 567.3Z" fill="#1a1514"/><path d="M811 513.9 L836 528.7 L836 567.3 L811 567.3Z" fill="#1a1514"/><path d="M812.2 516.8 L813.1 517.2 L813.1 567.3 L812.2 567.3Z" fill="#fff"/><path d="M766.9 528.7 L800.7 524.2 L800.7 533.8 L766.9 537.9Z" fill="#fff"/><path d="M764.9 544.1 L803.8 541 L803.8 542.2 L766.1 545.3 L766.1 567.3 L764.9 567.3Z" fill="#fff"/><path d="M767.9 546.8 L801.8 543.9 L801.8 544.9 L769 547.8 L769 567.3 L767.9 567.3Z" fill="#fff"/><path d="M775.1 550.2 L782.3 549.2 L782.3 566 L775.1 566Z" fill="#fff"/><path d="M784.3 550.2 L792.1 549.2 L792.1 566 L784.3 566Z" fill="#fff"/><path d="M794.2 550.2 L802.4 549.2 L802.4 566 L794.2 566Z" fill="#fff"/><path d="M813.9 542 L818.8 544.1 L818.8 567.3 L817.6 567.3 L817.6 545.5 L815.1 544.3 L815.1 567.3 L813.9 567.3Z" fill="#fff"/><path d="M827 549.2 L829.9 550.2 L829.9 565.6 L827 565.6Z" fill="#fff"/><path d="M831.1 549.2 L833.6 550.2 L833.6 565.6 L831.1 565.6Z" fill="#fff"/><path d="M826.4 530.8 L832.5 533.8 L832.5 535.9 L826.4 532.8Z" fill="#fff"/><text transform="translate(769.6 535.3) rotate(-7.5)" font-size="8.2" class="b" fill="#1a1514" textLength="29" lengthAdjust="spacingAndGlyphs">STORE</text><path d="M875.6 535.3 C876.4 535.1 877.8 536 878.3 536.9 C878.7 537.8 877.9 539.4 878.3 540.6 C878.7 541.8 880.1 542.3 880.7 544.1 C881.3 545.9 881.8 549 881.8 551.3 C881.7 553.5 880.3 554.9 880.3 557.4 C880.3 560 882.2 564.8 881.8 566.7 C881.3 568.5 879.2 568.5 877.7 568.7 C876.1 568.9 873 568.6 872.5 568.1 C872 567.6 874.2 567.7 874.6 565.6 C874.9 563.5 874.7 558.1 874.6 555.4 C874.4 552.6 874.2 550.4 873.6 549.2 C872.9 548 871.3 549 870.5 548.2 C869.6 547.3 868.4 544.9 868.4 544.1 C868.4 543.3 869.6 543.2 870.5 543.5 C871.3 543.7 872.9 545.9 873.6 545.5 C874.2 545.1 874.6 542.3 874.6 541 C874.6 539.8 873.4 538.9 873.6 537.9 C873.7 537 874.8 535.4 875.6 535.3Z" fill="#1a1514"/><path d="M850.4 552.9 L864.3 551.3 L866 546.8 L868 546.8 L865.3 561.5 L852 561.5Z" fill="#1a1514"/><path d="M851.6 561.5 L860.2 561.5 L860.2 565.2 L851.6 565.2Z" fill="#1a1514"/><path d="M862.3 561.5 L863.5 561.5 L868.4 567.3 L866.8 568.1Z" fill="#1a1514"/><path d="M861.2 546.8 L866.8 549.2 L866 553.7 L861.9 552.9Z" fill="#1a1514"/><circle cx="853" cy="567.3" r="1.3" fill="#1a1514"/><circle cx="867.4" cy="567.3" r="1.3" fill="#1a1514"/>
<g fill="#0a0a0a"><g transform="translate(260.5 320.1) rotate(-151.1)"><rect x="-1.6" y="-3" width="9.8" height="5.9" rx="3.9" ry="3"/><rect x="-8.2" y="-2.5" width="5.9" height="4.9" rx="2.5" ry="2.2"/></g><g transform="translate(272.6 317.4) rotate(-148.3)"><rect x="-1.6" y="-3" width="9.8" height="5.9" rx="3.9" ry="3"/><rect x="-8.2" y="-2.5" width="5.9" height="4.9" rx="2.5" ry="2.2"/></g><g transform="translate(281.8 334) rotate(-151.4)"><rect x="-1.6" y="-3" width="9.8" height="5.9" rx="3.9" ry="3"/><rect x="-8.2" y="-2.5" width="5.9" height="4.9" rx="2.5" ry="2.2"/></g><g transform="translate(293.8 331.4) rotate(-147.8)"><rect x="-1.6" y="-3" width="9.8" height="5.9" rx="3.9" ry="3"/><rect x="-8.2" y="-2.5" width="5.9" height="4.9" rx="2.5" ry="2.2"/></g><g transform="translate(374.1 368.2) rotate(-150.3)"><rect x="-1.6" y="-3" width="9.8" height="5.9" rx="3.9" ry="3"/><rect x="-8.2" y="-2.5" width="5.9" height="4.9" rx="2.5" ry="2.2"/></g><g transform="translate(382.9 364.1) rotate(-154.1)"><rect x="-1.6" y="-3" width="9.8" height="5.9" rx="3.9" ry="3"/><rect x="-8.2" y="-2.5" width="5.9" height="4.9" rx="2.5" ry="2.2"/></g><g transform="translate(401.3 380) rotate(-153.4)"><rect x="-1.6" y="-3" width="9.8" height="5.9" rx="3.9" ry="3"/><rect x="-8.2" y="-2.5" width="5.9" height="4.9" rx="2.5" ry="2.2"/></g><g transform="translate(410.5 376.5) rotate(-152.8)"><rect x="-1.6" y="-3" width="9.8" height="5.9" rx="3.9" ry="3"/><rect x="-8.2" y="-2.5" width="5.9" height="4.9" rx="2.5" ry="2.2"/></g><g transform="translate(385.2 296.7) rotate(-138.2)"><rect x="-2.7" y="-2.9" width="10.7" height="5.7" rx="4.3" ry="2.9"/><rect x="-8" y="-1.9" width="4.7" height="3.9" rx="2" ry="1.8"/></g><g transform="translate(401.6 300.1) rotate(-117.7)"><rect x="-2.7" y="-2.9" width="10.7" height="5.7" rx="4.3" ry="2.9"/><rect x="-8" y="-1.9" width="4.7" height="3.9" rx="2" ry="1.8"/></g><g transform="translate(402.7 319.5) rotate(-137.3)"><rect x="-2.7" y="-2.9" width="10.7" height="5.7" rx="4.3" ry="2.9"/><rect x="-8" y="-1.9" width="4.7" height="3.9" rx="2" ry="1.8"/></g><g transform="translate(421.3 326.2) rotate(-116)"><rect x="-2.7" y="-2.9" width="10.7" height="5.7" rx="4.3" ry="2.9"/><rect x="-8" y="-1.9" width="4.7" height="3.9" rx="2" ry="1.8"/></g><g transform="translate(422.5 345.6) rotate(-136.9)"><rect x="-2.7" y="-2.9" width="10.7" height="5.7" rx="4.3" ry="2.9"/><rect x="-8" y="-1.9" width="4.7" height="3.9" rx="2" ry="1.8"/></g><g transform="translate(441.3 358.4) rotate(-124.1)"><rect x="-2.7" y="-2.9" width="10.7" height="5.7" rx="4.3" ry="2.9"/><rect x="-8" y="-1.9" width="4.7" height="3.9" rx="2" ry="1.8"/></g><g transform="translate(394.1 434.4) rotate(180)"><rect x="-1.8" y="-3.1" width="11.5" height="6.3" rx="4.6" ry="3.1"/><rect x="-9.8" y="-2.4" width="7.3" height="4.7" rx="3.1" ry="2.1"/></g><g transform="translate(403 442.4) rotate(176)"><rect x="-1.8" y="-3.1" width="11.5" height="6.3" rx="4.6" ry="3.1"/><rect x="-9.8" y="-2.4" width="7.3" height="4.7" rx="3.1" ry="2.1"/></g><g transform="translate(423.5 430.7) rotate(180)"><rect x="-1.8" y="-3.1" width="11.5" height="6.3" rx="4.6" ry="3.1"/><rect x="-9.8" y="-2.4" width="7.3" height="4.7" rx="3.1" ry="2.1"/></g><g transform="translate(433 438.8) rotate(170.1)"><rect x="-1.8" y="-3.1" width="11.5" height="6.3" rx="4.6" ry="3.1"/><rect x="-9.8" y="-2.4" width="7.3" height="4.7" rx="3.1" ry="2.1"/></g><g transform="translate(611.7 256.8) rotate(-71.8)"><rect x="-2.9" y="-2.5" width="11" height="5.1" rx="4.4" ry="2.5"/><rect x="-8.1" y="-2" width="4.5" height="4.1" rx="1.9" ry="1.8"/></g><g transform="translate(614.6 271.6) rotate(-55.1)"><rect x="-2.9" y="-2.5" width="11" height="5.1" rx="4.4" ry="2.5"/><rect x="-8.1" y="-2" width="4.5" height="4.1" rx="1.9" ry="1.8"/></g><g transform="translate(597.9 283.5) rotate(-71.4)"><rect x="-2.9" y="-2.5" width="11" height="5.1" rx="4.4" ry="2.5"/><rect x="-8.1" y="-2" width="4.5" height="4.1" rx="1.9" ry="1.8"/></g><g transform="translate(599.2 302.3) rotate(-52.7)"><rect x="-2.9" y="-2.5" width="11" height="5.1" rx="4.4" ry="2.5"/><rect x="-8.1" y="-2" width="4.5" height="4.1" rx="1.9" ry="1.8"/></g><g transform="translate(582.5 313.8) rotate(-74.1)"><rect x="-2.9" y="-2.5" width="11" height="5.1" rx="4.4" ry="2.5"/><rect x="-8.1" y="-2" width="4.5" height="4.1" rx="1.9" ry="1.8"/></g><g transform="translate(579 336.1) rotate(-59.9)"><rect x="-2.9" y="-2.5" width="11" height="5.1" rx="4.4" ry="2.5"/><rect x="-8.1" y="-2" width="4.5" height="4.1" rx="1.9" ry="1.8"/></g><g transform="translate(597.4 395.3) rotate(-21.6)"><rect x="-2.3" y="-2.9" width="10.3" height="5.8" rx="4.1" ry="2.9"/><rect x="-8" y="-2.3" width="5" height="4.6" rx="2.1" ry="2.1"/></g><g transform="translate(607.7 400.2) rotate(-19)"><rect x="-2.3" y="-2.9" width="10.3" height="5.8" rx="4.1" ry="2.9"/><rect x="-8" y="-2.3" width="5" height="4.6" rx="2.1" ry="2.1"/></g><g transform="translate(622.3 385.2) rotate(-19.7)"><rect x="-2.3" y="-2.9" width="10.3" height="5.8" rx="4.1" ry="2.9"/><rect x="-8" y="-2.3" width="5" height="4.6" rx="2.1" ry="2.1"/></g><g transform="translate(632.3 390.4) rotate(-22.7)"><rect x="-2.3" y="-2.9" width="10.3" height="5.8" rx="4.1" ry="2.9"/><rect x="-8" y="-2.3" width="5" height="4.6" rx="2.1" ry="2.1"/></g><g transform="translate(697.3 363.9) rotate(-22.7)"><rect x="-2" y="-2.5" width="9.1" height="5" rx="3.6" ry="2.5"/><rect x="-7.1" y="-2" width="4.5" height="4" rx="1.9" ry="1.8"/></g><g transform="translate(711.4 365.9) rotate(-24.4)"><rect x="-2" y="-2.5" width="9.1" height="5" rx="3.6" ry="2.5"/><rect x="-7.1" y="-2" width="4.5" height="4" rx="1.9" ry="1.8"/></g><g transform="translate(714.3 355) rotate(-25.8)"><rect x="-2" y="-2.5" width="9.1" height="5" rx="3.6" ry="2.5"/><rect x="-7.1" y="-2" width="4.5" height="4" rx="1.9" ry="1.8"/></g><g transform="translate(728.8 357.1) rotate(-24.4)"><rect x="-2" y="-2.5" width="9.1" height="5" rx="3.6" ry="2.5"/><rect x="-7.1" y="-2" width="4.5" height="4" rx="1.9" ry="1.8"/></g><g transform="translate(594.3 448.8) rotate(33.3)"><rect x="-3.2" y="-3.1" width="13.2" height="6.2" rx="5.3" ry="3.1"/><rect x="-9.9" y="-2.3" width="6" height="4.6" rx="2.5" ry="2.1"/></g><g transform="translate(613.2 470.9) rotate(41.7)"><rect x="-3.2" y="-3.1" width="13.2" height="6.2" rx="5.3" ry="3.1"/><rect x="-9.9" y="-2.3" width="6" height="4.6" rx="2.5" ry="2.1"/></g><g transform="translate(639.3 473.8) rotate(23.5)"><rect x="-3.2" y="-3.1" width="13.2" height="6.2" rx="5.3" ry="3.1"/><rect x="-9.9" y="-2.3" width="6" height="4.6" rx="2.5" ry="2.1"/></g><g transform="translate(650.6 494.8) rotate(40.3)"><rect x="-3.2" y="-3.1" width="13.2" height="6.2" rx="5.3" ry="3.1"/><rect x="-9.9" y="-2.3" width="6" height="4.6" rx="2.5" ry="2.1"/></g><g transform="translate(677 498.2) rotate(25.3)"><rect x="-3.2" y="-3.1" width="13.2" height="6.2" rx="5.3" ry="3.1"/><rect x="-9.9" y="-2.3" width="6" height="4.6" rx="2.5" ry="2.1"/></g><g transform="translate(683.5 516.6) rotate(39.4)"><rect x="-3.2" y="-3.1" width="13.2" height="6.2" rx="5.3" ry="3.1"/><rect x="-9.9" y="-2.3" width="6" height="4.6" rx="2.5" ry="2.1"/></g><g transform="translate(457.3 494) rotate(123.1)"><rect x="-3.1" y="-3" width="13.3" height="6" rx="5.3" ry="3"/><rect x="-10.2" y="-2.4" width="6.5" height="4.7" rx="2.7" ry="2.1"/></g><g transform="translate(469.7 491.7) rotate(119)"><rect x="-3.1" y="-3" width="13.3" height="6" rx="5.3" ry="3"/><rect x="-10.2" y="-2.4" width="6.5" height="4.7" rx="2.7" ry="2.1"/></g><g transform="translate(440.6 521.4) rotate(121.7)"><rect x="-3.1" y="-3" width="13.3" height="6" rx="5.3" ry="3"/><rect x="-10.2" y="-2.4" width="6.5" height="4.7" rx="2.7" ry="2.1"/></g><g transform="translate(452.6 518.8) rotate(121.7)"><rect x="-3.1" y="-3" width="13.3" height="6" rx="5.3" ry="3"/><rect x="-10.2" y="-2.4" width="6.5" height="4.7" rx="2.7" ry="2.1"/></g><g transform="translate(377.7 602.6) rotate(126.2)"><rect x="-3.1" y="-3" width="13.3" height="6" rx="5.3" ry="3"/><rect x="-10.2" y="-2.4" width="6.5" height="4.7" rx="2.7" ry="2.1"/></g><g transform="translate(389.8 601.6) rotate(122.6)"><rect x="-3.1" y="-3" width="13.3" height="6" rx="5.3" ry="3"/><rect x="-10.2" y="-2.4" width="6.5" height="4.7" rx="2.7" ry="2.1"/></g><g transform="translate(359.7 627.1) rotate(128.1)"><rect x="-3.1" y="-3" width="13.3" height="6" rx="5.3" ry="3"/><rect x="-10.2" y="-2.4" width="6.5" height="4.7" rx="2.7" ry="2.1"/></g><g transform="translate(372 625.8) rotate(124.9)"><rect x="-3.1" y="-3" width="13.3" height="6" rx="5.3" ry="3"/><rect x="-10.2" y="-2.4" width="6.5" height="4.7" rx="2.7" ry="2.1"/></g><g transform="translate(523.4 495.1) rotate(73.9)"><rect x="-2.4" y="-3.2" width="12.5" height="6.4" rx="5" ry="3.2"/><rect x="-10.1" y="-2.5" width="7" height="5" rx="2.9" ry="2.2"/></g><g transform="translate(534.8 501.7) rotate(73.9)"><rect x="-2.4" y="-3.2" width="12.5" height="6.4" rx="5" ry="3.2"/><rect x="-10.1" y="-2.5" width="7" height="5" rx="2.9" ry="2.2"/></g><g transform="translate(532.1 524.5) rotate(74.5)"><rect x="-2.4" y="-3.2" width="12.5" height="6.4" rx="5" ry="3.2"/><rect x="-10.1" y="-2.5" width="7" height="5" rx="2.9" ry="2.2"/></g><g transform="translate(543.3 530.9) rotate(73.9)"><rect x="-2.4" y="-3.2" width="12.5" height="6.4" rx="5" ry="3.2"/><rect x="-10.1" y="-2.5" width="7" height="5" rx="2.9" ry="2.2"/></g></g>
</svg>
</body></html>
